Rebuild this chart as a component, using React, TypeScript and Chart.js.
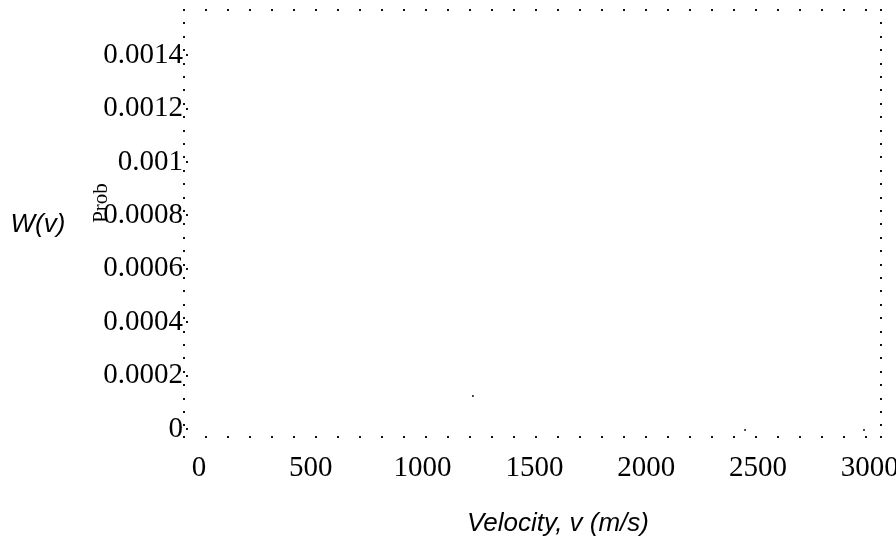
import React, { useEffect, useRef } from 'react';
import { Chart, registerables } from 'chart.js';

Chart.register(...registerables);

// ---- data ----
const xTickValues = [0, 500, 1000, 1500, 2000, 2500, 3000];
const xTickLabels = ['0', '500', '1000', '1500', '2000', '2500', '3000'];
const yTickValues = [0, 0.0002, 0.0004, 0.0006, 0.0008, 0.001, 0.0012, 0.0014];
const yTickLabels = ['0', '0.0002', '0.0004', '0.0006', '0.0008', '0.001', '0.0012', '0.0014'];
const velocity = [1225, 2442, 2974];
const prob = [0.000124, -0.0000037, -0.0000037];
const xRange = [-67, 3050];
const yRange = [-0.00003, 0.001569];
const xTitle = 'Velocity, v (m/s)';
const yTitle = 'Prob';
const sideLabel = 'W(v)';

const SERIF = '"Liberation Serif", "Times New Roman", serif';
const SANS = '"Liberation Sans", Arial, sans-serif';

const framePlugin = {
  id: 'dottedFrame',
  afterDraw(chart: any) {
    const { ctx, chartArea: a } = chart;
    ctx.save();
    ctx.fillStyle = '#111';
    const dot = (x: number, y: number) => ctx.fillRect(Math.round(x) - 1, Math.round(y) - 1, 2, 2);
    for (let x = a.left; x <= a.right + 0.5; x += 22) {
      dot(x, a.top);
      dot(x, a.bottom);
    }
    dot(a.right, a.top);
    dot(a.right, a.bottom);
    for (let y = a.top; y <= a.bottom + 0.5; y += 13.4) {
      dot(a.left, y);
      dot(a.right, y);
    }
    const ys = chart.scales.y;
    yTickValues.forEach((v) => dot(a.left + 3, ys.getPixelForValue(v)));

    ctx.fillStyle = '#000';
    ctx.textAlign = 'center';
    ctx.textBaseline = 'middle';
    ctx.font = 'italic 26px ' + SANS;
    ctx.fillText(sideLabel, 38, 225);
    ctx.fillText(xTitle, 558, 524);
    ctx.save();
    ctx.translate(101, 203);
    ctx.rotate(-Math.PI / 2);
    ctx.font = '21px ' + SERIF;
    ctx.fillText(yTitle, 0, 0);
    ctx.restore();
    ctx.restore();
  },
};

export default function App() {
  const ref = useRef<HTMLCanvasElement | null>(null);
  useEffect(() => {
    if (!ref.current) return;
    const chart = new Chart(ref.current, {
      type: 'scatter',
      data: {
        datasets: [
          {
            data: velocity.map((v, i) => ({ x: v, y: prob[i] })),
            pointRadius: 1,
            pointBackgroundColor: '#111',
            pointBorderWidth: 0,
            showLine: false,
          },
        ],
      },
      options: {
        animation: false,
        responsive: true,
        maintainAspectRatio: false,
        layout: { padding: { left: 0, top: 10, right: 15, bottom: 0 } },
        plugins: { legend: { display: false }, tooltip: { enabled: false }, title: { display: false } },
        scales: {
          x: {
            type: 'linear',
            min: xRange[0],
            max: xRange[1],
            grid: { display: false, drawTicks: false },
            border: { display: false },
            afterBuildTicks: (s: any) => {
              s.ticks = xTickValues.map((v) => ({ value: v }));
            },
            afterFit: (s: any) => {
              s.height = 106;
              s.paddingLeft = 0;
              s.paddingRight = 0;
            },
            ticks: {
              autoSkip: false,
              maxRotation: 0,
              padding: 14,
              color: '#000',
              font: { family: SERIF, size: 29 },
              callback: (v: any) => xTickLabels[xTickValues.indexOf(v)] ?? '',
            },
          },
          y: {
            type: 'linear',
            min: yRange[0],
            max: yRange[1],
            grid: { display: false, drawTicks: false },
            border: { display: false },
            afterBuildTicks: (s: any) => {
              s.ticks = yTickValues.map((v) => ({ value: v }));
            },
            afterFit: (s: any) => {
              s.width = 184;
              s.paddingTop = 0;
              s.paddingBottom = 0;
            },
            ticks: {
              autoSkip: false,
              padding: 1,
              color: '#000',
              font: { family: SERIF, size: 29 },
              callback: (v: any) => {
                const i = yTickValues.findIndex((t) => Math.abs(t - v) < 1e-9);
                return i >= 0 ? yTickLabels[i] : '';
              },
            },
          },
        },
      },
      plugins: [framePlugin],
    });
    return () => chart.destroy();
  }, []);
  return (
    <div style={{ position: 'fixed', left: 0, top: 0, width: 896, height: 543 }}>
      <canvas ref={ref} />
    </div>
  );
}
